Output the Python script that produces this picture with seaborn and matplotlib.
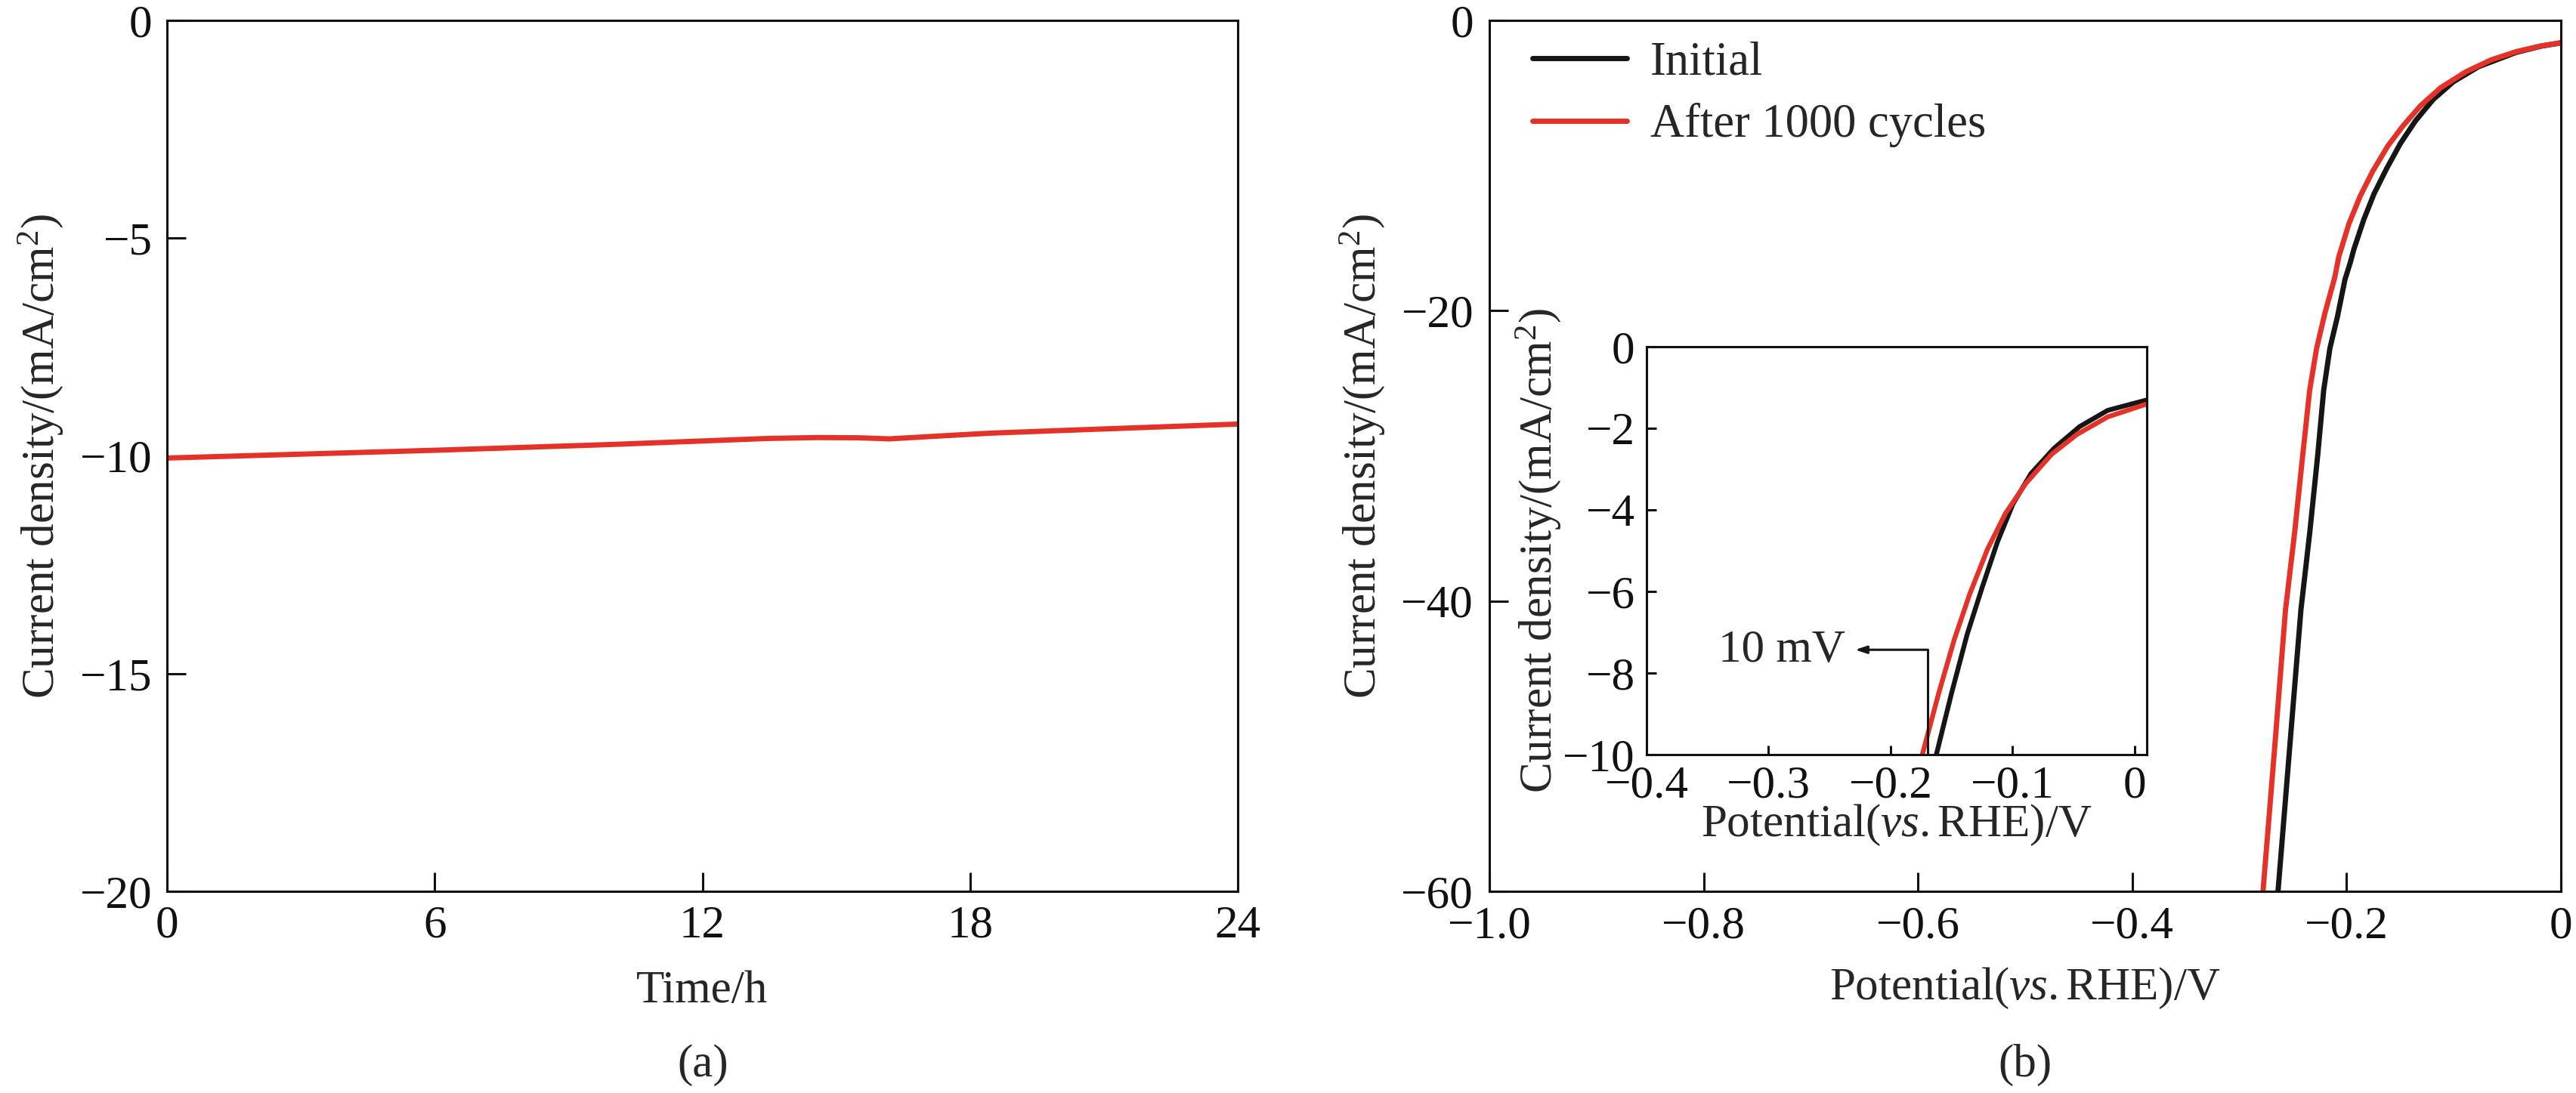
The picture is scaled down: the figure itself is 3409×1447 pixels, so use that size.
import matplotlib
matplotlib.use("Agg")
import matplotlib.pyplot as plt
import seaborn as sns

# ---------------- data ----------------
time_h = [0, 6.06, 9.93, 13.48, 14.57, 15.5, 16.19, 17.04, 18.43, 19.98, 24]
stab_j = [-10.05, -9.87, -9.74, -9.60, -9.58, -9.585, -9.61, -9.56, -9.48, -9.42, -9.27]

V_init = [-0.264, -0.253, -0.2426, -0.2344, -0.227, -0.2214, -0.2156, -0.2085, -0.2015,
          -0.1967, -0.1932, -0.1838, -0.1744, -0.1627, -0.1498, -0.1357, -0.1192, -0.1004,
          -0.0769, -0.0416, -0.0181, 0.0]
j_init = [-60, -50, -40.6, -35.3, -30, -25.5, -22.6, -20.4, -17.85,
          -16.72, -15.77, -13.69, -11.95, -10.22, -8.48, -6.92, -5.45, -4.23,
          -3.19, -2.2, -1.77, -1.55]
V_cyc = [-0.278, -0.267, -0.257, -0.2485, -0.241, -0.2345, -0.228, -0.220, -0.211,
         -0.2073, -0.1979, -0.1874, -0.1756, -0.1615, -0.1474, -0.1310, -0.1121, -0.0886,
         -0.0651, -0.0416, -0.0181, 0.0]
j_cyc = [-60, -50, -40.6, -35.3, -30, -25.5, -22.6, -20.1, -17.7,
         -16.29, -14.03, -12.12, -10.39, -8.65, -7.27, -5.88, -4.63, -3.54,
         -2.72, -2.15, -1.75, -1.54]

Vi_init = [-0.1625, -0.1499, -0.1373, -0.1247, -0.1122, -0.0996, -0.0849, -0.0660, -0.0451, -0.0220, 0.0094]
ji_init = [-10, -8.48, -7.06, -5.88, -4.77, -3.85, -3.11, -2.49, -1.96, -1.56, -1.31]
Vi_cyc = [-0.1740, -0.1604, -0.1478, -0.1352, -0.1205, -0.1059, -0.0891, -0.0681, -0.0472, -0.0220, 0.0094]
ji_cyc = [-10, -8.48, -7.18, -6.07, -4.96, -4.09, -3.35, -2.64, -2.15, -1.72, -1.41]

series_labels = ["Initial", "After 1000 cycles"]

a_xticks = [0, 6, 12, 18, 24]
a_xticklabels = ["0", "6", "12", "18", "24"]
a_yticks = [0, -5, -10, -15, -20]
a_yticklabels = ["0", "\u22125", "\u221210", "\u221215", "\u221220"]
b_xticks = [-1.0, -0.8, -0.6, -0.4, -0.2, 0]
b_xticklabels = ["\u22121.0", "\u22120.8", "\u22120.6", "\u22120.4", "\u22120.2", "0"]
b_yticks = [0, -20, -40, -60]
b_yticklabels = ["0", "\u221220", "\u221240", "\u221260"]
in_xticks = [-0.4, -0.3, -0.2, -0.1, 0]
in_xticklabels = ["\u22120.4", "\u22120.3", "\u22120.2", "\u22120.1", "0"]
in_yticks = [0, -2, -4, -6, -8, -10]
in_yticklabels = ["0", "\u22122", "\u22124", "\u22126", "\u22128", "\u221210"]

ylab = r"Current density/(mA/cm$^{2}$)"
xlab_a = "Time/h"
xlab_b = r"Potential($\mathit{vs.}$RHE)/V"

# ---------------- style ----------------
sns.set_style("ticks")
plt.rcParams["font.family"] = ["Liberation Serif", "DejaVu Serif"]
plt.rcParams["mathtext.fontset"] = "custom"
plt.rcParams["mathtext.rm"] = "Liberation Serif"
plt.rcParams["mathtext.it"] = "Liberation Serif:italic"
plt.rcParams["axes.unicode_minus"] = True
plt.rcParams["lines.solid_joinstyle"] = "round"

RED = "#e53228"
BLK = "#161616"
FS = 44
W, H = 3409, 1447

fig = plt.figure(figsize=(W / 100, H / 100), dpi=100)

def px_axes(l, t, r, b):
    return fig.add_axes([l / W, 1 - b / H, (r - l) / W, (b - t) / H])

axA = px_axes(221, 27, 1638, 1180)
axB = px_axes(1971, 27, 3389, 1180)
axI = px_axes(2179, 459, 2841, 999)

def style(ax, ticklen, xpad, ypad):
    for s in ax.spines.values():
        s.set_linewidth(2.2)
        s.set_color("#111111")
    ax.tick_params(direction="in", length=ticklen, width=2.2, labelsize=FS,
                   top=False, right=False, colors="#111111")
    ax.tick_params(axis="x", pad=xpad)
    ax.tick_params(axis="y", pad=ypad)

# ---- panel (a)
sns.lineplot(x=time_h, y=stab_j, ax=axA, color=RED, lw=5, sort=False, estimator=None)
axA.set_xlim(0, 24)
axA.set_ylim(-20, 0)
axA.set_xticks(a_xticks, a_xticklabels)
axA.set_yticks(a_yticks, a_yticklabels)
style(axA, 18, 13, 14)
axA.set_xlabel(xlab_a, fontsize=FS, labelpad=22)
axA.set_ylabel(ylab, fontsize=FS, labelpad=14)

# ---- panel (b)
sns.lineplot(x=V_init, y=j_init, ax=axB, color=BLK, lw=5, sort=False, estimator=None,
             label=series_labels[0])
sns.lineplot(x=V_cyc, y=j_cyc, ax=axB, color=RED, lw=5, sort=False, estimator=None,
             label=series_labels[1])
axB.set_xlim(-1.0, 0)
axB.set_ylim(-60, 0)
axB.set_xticks(b_xticks, b_xticklabels)
axB.set_yticks(b_yticks, b_yticklabels)
style(axB, 18, 14, 15)
axB.set_xlabel(xlab_b, fontsize=FS, labelpad=17)
axB.set_ylabel(ylab, fontsize=FS, labelpad=14)
axB.legend(loc="upper left", bbox_to_anchor=(0.040, 0.976), frameon=False,
           fontsize=FS + 1, handlelength=2.0, handletextpad=0.5, labelspacing=0.38,
           borderpad=0, borderaxespad=0)

# ---- inset
sns.lineplot(x=Vi_init, y=ji_init, ax=axI, color=BLK, lw=4.6, sort=False, estimator=None)
sns.lineplot(x=Vi_cyc, y=ji_cyc, ax=axI, color=RED, lw=4.6, sort=False, estimator=None)
axI.set_xlim(-0.4, 0.01)
axI.set_ylim(-10, 0)
axI.set_xticks(in_xticks, in_xticklabels)
axI.set_yticks(in_yticks, in_yticklabels)
style(axI, 9, 10, 11)
axI.set_xlabel(xlab_b, fontsize=FS, labelpad=-4)
axI.set_ylabel(ylab, fontsize=FS, labelpad=0)
axI.set_facecolor("white")

# annotation "10 mV"
axI.plot([-0.1698, -0.1698], [-10, -7.43], color=BLK, lw=2.2, solid_capstyle="butt")
axI.annotate("", xy=(-0.229, -7.43), xytext=(-0.1693, -7.43),
             arrowprops=dict(arrowstyle="-|>,head_length=0.9,head_width=0.3",
                             color=BLK, lw=2.2, shrinkA=0, shrinkB=0))
axI.text(-0.237, -7.44, "10 mV", fontsize=FS, ha="right", va="center")

# captions
fig.text(930 / W, 1 - 1410 / H, "(a)", fontsize=FS, ha="center", va="center")
fig.text(2680 / W, 1 - 1410 / H, "(b)", fontsize=FS, ha="center", va="center")

fig.savefig("out.png", dpi=100, facecolor="white")
